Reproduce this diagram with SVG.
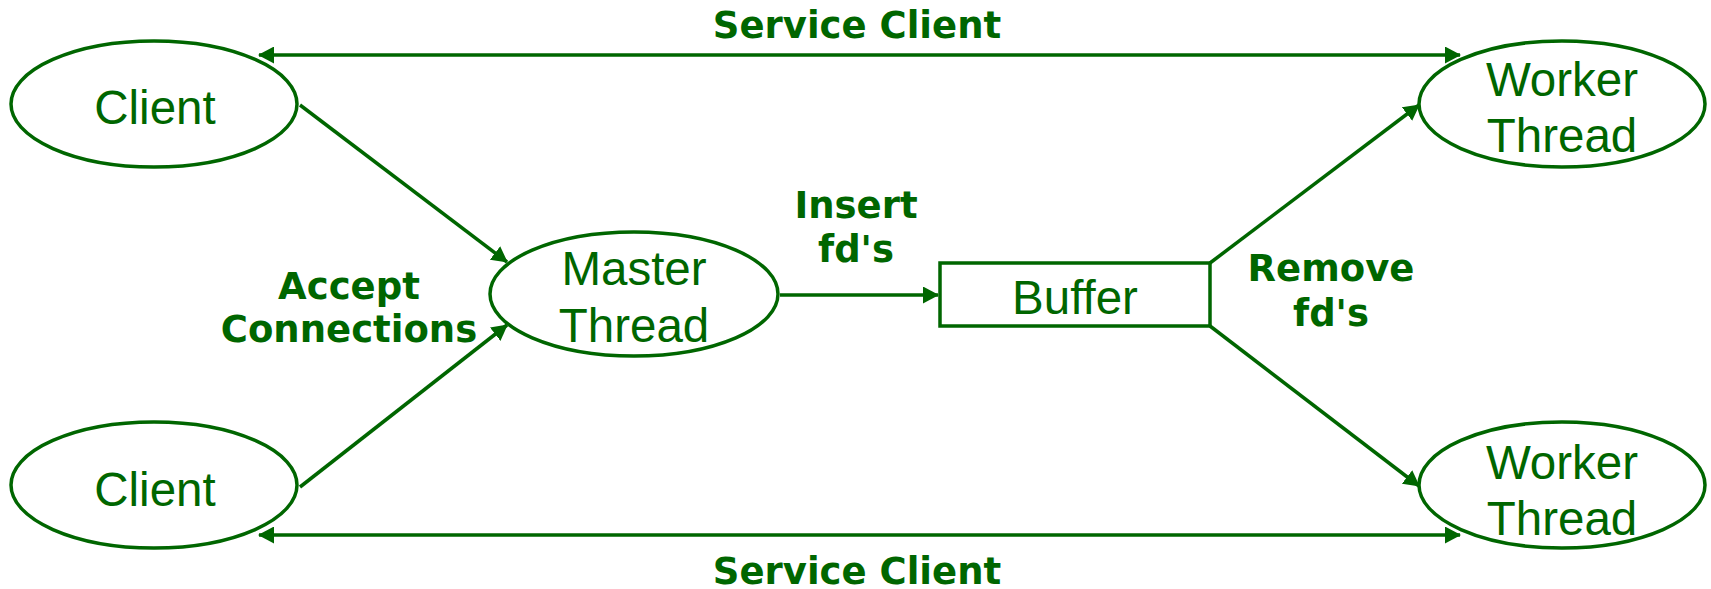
<svg xmlns="http://www.w3.org/2000/svg" width="1711" height="589" viewBox="0 0 1711 589">
<defs>
<marker id="ah" viewBox="0 0 16 17" refX="15" refY="8.5" markerWidth="16" markerHeight="17" orient="auto-start-reverse" markerUnits="userSpaceOnUse">
<path d="M0,0 L16,8.5 L0,17 z" fill="#006600"/>
</marker>
<style>
.n{fill:#fff;stroke:#006600;stroke-width:3.5}
.t{font-family:"Liberation Sans",Arial,sans-serif;font-size:47.5px;fill:#006600;text-anchor:middle}
.l{font-family:"DejaVu Sans",sans-serif;font-weight:bold;font-size:37px;fill:#006600;text-anchor:middle}
.c{stroke:#006600;stroke-width:3.5;fill:none}
</style>
</defs>
<rect width="1711" height="589" fill="#fff"/>
<g id="connectors">
<line class="c" x1="300" y1="105" x2="507" y2="262" marker-end="url(#ah)"/>
<line class="c" x1="300" y1="487" x2="507" y2="325" marker-end="url(#ah)"/>
<line class="c" x1="780" y1="295" x2="938" y2="295" marker-end="url(#ah)"/>
<line class="c" x1="1210" y1="263" x2="1419" y2="105" marker-end="url(#ah)"/>
<line class="c" x1="1210" y1="326" x2="1419" y2="486" marker-end="url(#ah)"/>
<line class="c" x1="259" y1="55" x2="1460" y2="55" marker-start="url(#ah)" marker-end="url(#ah)"/>
<line class="c" x1="259" y1="535" x2="1460" y2="535" marker-start="url(#ah)" marker-end="url(#ah)"/>
</g>
<g id="labels">
<text class="l" x="857" y="38">Service Client</text>
<text class="l" x="857" y="584">Service Client</text>
<text class="l" x="856" y="218">Insert</text>
<text class="l" x="856" y="262">fd's</text>
<text class="l" x="349" y="299">Accept</text>
<text class="l" x="349" y="342">Connections</text>
<text class="l" x="1331" y="281">Remove</text>
<text class="l" x="1331" y="326">fd's</text>
</g>
<g id="client1">
<ellipse class="n" cx="154" cy="104" rx="143" ry="63"/>
<text class="t" x="155" y="124">Client</text>
</g>
<g id="client2">
<ellipse class="n" cx="154" cy="485" rx="143" ry="63"/>
<text class="t" x="155" y="506">Client</text>
</g>
<g id="master">
<ellipse class="n" cx="634" cy="294" rx="144" ry="62"/>
<text class="t" x="634" y="285">Master</text>
<text class="t" x="634" y="342">Thread</text>
</g>
<g id="buffer">
<rect class="n" x="940" y="263" width="270" height="63"/>
<text class="t" x="1075" y="314">Buffer</text>
</g>
<g id="worker1">
<ellipse class="n" cx="1562" cy="104" rx="143" ry="63"/>
<text class="t" x="1562" y="96">Worker</text>
<text class="t" x="1562" y="152">Thread</text>
</g>
<g id="worker2">
<ellipse class="n" cx="1562" cy="485" rx="143" ry="63"/>
<text class="t" x="1562" y="479">Worker</text>
<text class="t" x="1562" y="535">Thread</text>
</g>
</svg>
